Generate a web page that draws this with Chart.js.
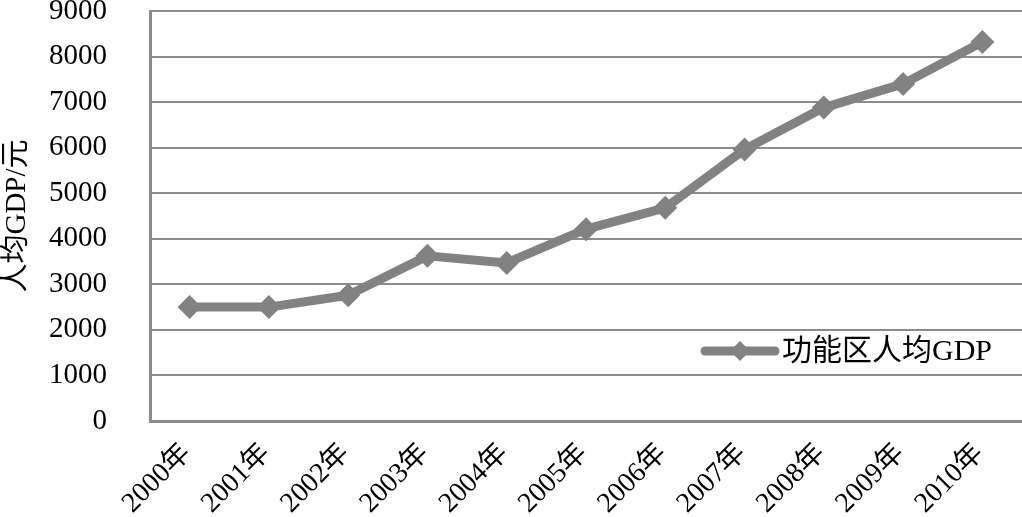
<!DOCTYPE html>
<html>
<head>
<meta charset="utf-8">
<script src="https://cdn.jsdelivr.net/npm/chart.js@4/dist/chart.umd.min.js"></script>
<style>
  html, body { margin: 0; padding: 0; background: #fff; }
</style>
</head>
<body>
<canvas id="gdpChart" width="1022" height="517"></canvas>
<script>
// data
const years = ['2000年', '2001年', '2002年', '2003年', '2004年', '2005年',
               '2006年', '2007年', '2008年', '2009年', '2010年'];
const gdpValues = [2500, 2500, 2760, 3625, 3470, 4210, 4680, 5960, 6880, 7400, 8320];
const yTicks = [0, 1000, 2000, 3000, 4000, 5000, 6000, 7000, 8000, 9000];
const seriesName = '功能区人均GDP';
const yTitle = '人均GDP/元';

const grey = '#828282';
const gridGrey = '#8c8c8c';
const fontFamily = '"Liberation Serif", "Times New Roman", "Noto Sans CJK SC", serif';

Chart.defaults.font.family = fontFamily;
Chart.defaults.color = '#000';

// legend drawn inside the plot, lower right, like the original
const innerLegend = {
    id: 'innerLegend',
    afterDraw(chart) {
        const ctx = chart.ctx;
        const area = chart.chartArea;
        const x0 = area.left + 555;
        const y = area.bottom - 70;
        ctx.save();
        ctx.strokeStyle = grey;
        ctx.lineWidth = 9;
        ctx.lineCap = 'round';
        ctx.beginPath();
        ctx.moveTo(x0, y);
        ctx.lineTo(x0 + 70, y);
        ctx.stroke();
        ctx.fillStyle = grey;
        ctx.beginPath();
        ctx.moveTo(x0 + 35, y - 10);
        ctx.lineTo(x0 + 45, y);
        ctx.lineTo(x0 + 35, y + 10);
        ctx.lineTo(x0 + 25, y);
        ctx.closePath();
        ctx.fill();
        ctx.fillStyle = '#000';
        ctx.font = '30px ' + fontFamily;
        ctx.textBaseline = 'middle';
        ctx.fillText(chart.data.datasets[0].label, x0 + 77, y + 1);
        ctx.restore();
    }
};

// no extra padding from labels, so the plot fills the same box as the original
function noPadding(scale) {
    scale.paddingTop = 0;
    scale.paddingBottom = 0;
    scale.paddingLeft = 0;
    scale.paddingRight = 0;
}

const ctx = document.getElementById('gdpChart').getContext('2d');
const chart = new Chart(ctx, {
    type: 'line',
    data: {
        labels: years,
        datasets: [{
            label: seriesName,
            data: gdpValues,
            borderColor: grey,
            backgroundColor: grey,
            borderWidth: 9,
            borderJoinStyle: 'round',
            pointStyle: 'rectRot',
            pointRadius: 12,
            pointBackgroundColor: grey,
            pointBorderWidth: 0,
            tension: 0
        }]
    },
    options: {
        responsive: false,
        animation: false,
        layout: {
            autoPadding: false,
            padding: { top: 11, right: 0, left: 0, bottom: 0 }
        },
        plugins: {
            legend: { display: false },
            tooltip: { enabled: false }
        },
        scales: {
            x: {
                offset: true,
                grid: { display: false, drawTicks: false },
                border: { display: true, color: gridGrey, width: 3 },
                ticks: {
                    autoSkip: false,
                    minRotation: 45,
                    maxRotation: 45,
                    padding: 16,
                    labelOffset: -3,
                    font: { size: 28 }
                },
                afterFit(scale) { scale.height = 96; noPadding(scale); }
            },
            y: {
                min: 0,
                max: 9000,
                afterBuildTicks(scale) {
                    scale.ticks = yTicks.map(v => ({ value: v }));
                },
                grid: { color: gridGrey, lineWidth: 2, drawTicks: false },
                border: { display: true, color: gridGrey, width: 3 },
                ticks: {
                    padding: 43,
                    font: { size: 29 },
                    callback: (v) => String(v)
                },
                title: {
                    display: true,
                    text: yTitle,
                    padding: 0,
                    font: { size: 29 }
                },
                afterFit(scale) { scale.width = 150; noPadding(scale); }
            }
        }
    },
    plugins: [innerLegend]
});
</script>
</body>
</html>
